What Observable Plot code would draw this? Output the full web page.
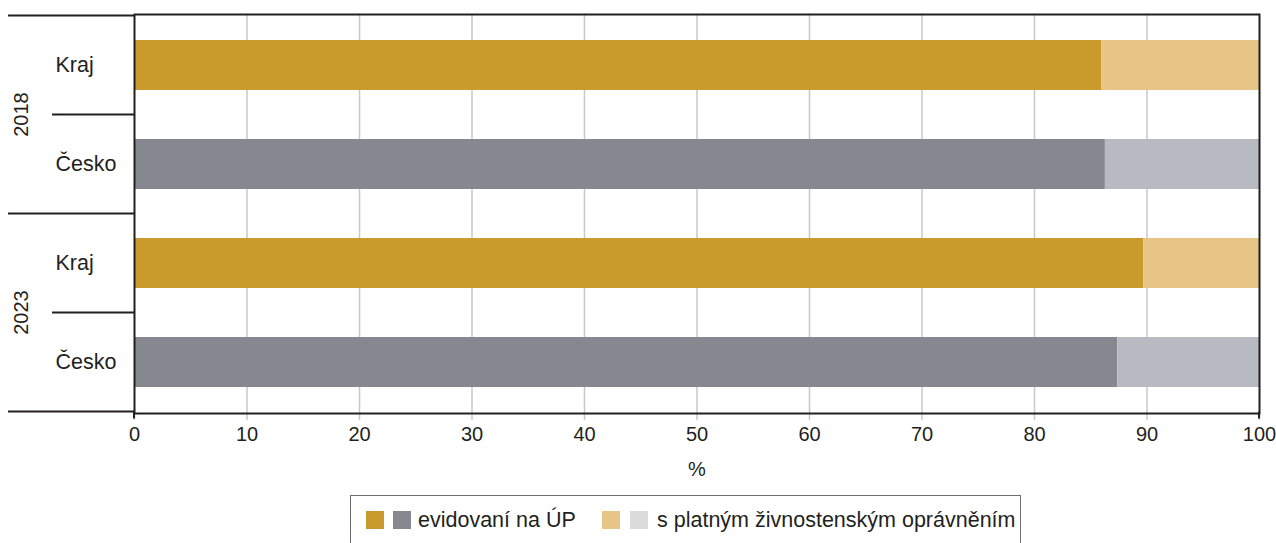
<!DOCTYPE html>
<html>
<head>
<meta charset="utf-8">
<script src="https://cdn.jsdelivr.net/npm/d3@7"></script>
<script src="https://cdn.jsdelivr.net/npm/@observablehq/plot@0.6"></script>
<style>
  html, body { margin: 0; padding: 0; background: #fff; overflow: hidden; }
  body { width: 1276px; height: 543px; position: relative; font-family: "Liberation Sans", Arial, sans-serif; color: #231f20; }
  #legend { position: absolute; left: 350px; top: 495px; width: 671px; height: 60px; border: 1px solid #6d6e71; box-sizing: border-box; font-size: 21.5px; }
  .sw { position: absolute; top: 15px; width: 18px; height: 18px; }
  .lt { position: absolute; top: 12px; white-space: nowrap; line-height: 24px; }
</style>
</head>
<body>
<div id="chart"></div>
<div id="legend"></div>
<script>
// ---- data ----
const years = ["2018", "2018", "2023", "2023"];
const regions = ["Kraj", "Česko", "Kraj", "Česko"];
const evidovani = [86.0, 86.3, 89.7, 87.4];          // evidovaní na ÚP (%)
const zivnost = [14.0, 13.7, 10.3, 12.6];            // s platným živnostenským oprávněním (%)
const seriesNames = ["evidovaní na ÚP", "s platným živnostenským oprávněním"];
const darkColors = {Kraj: "#c99a2c", "Česko": "#86888f"};
const lightColors = {Kraj: "#e6c586", "Česko": "#b7bac1"};
const legendSwatches = [["#c99a2c", "#86888f"], ["#e6c586", "#dadbdd"]];
const xTicks = [0, 10, 20, 30, 40, 50, 60, 70, 80, 90, 100];

const keys = years.map((y, i) => y + " " + regions[i]);
const rows = [];
keys.forEach((k, i) => {
  rows.push({key: k, region: regions[i], series: seriesNames[0], value: evidovani[i], color: darkColors[regions[i]]});
  rows.push({key: k, region: regions[i], series: seriesNames[1], value: zivnost[i], color: lightColors[regions[i]]});
});

const ink = "#231f20";
const chart = Plot.plot({
  width: 1276,
  height: 488,
  marginTop: 14,
  marginBottom: 75,
  marginLeft: 134,
  marginRight: 17,
  style: {fontFamily: "Liberation Sans, Arial, sans-serif", fontSize: "20px", color: ink, background: "#fff"},
  x: {domain: [0, 100]},
  y: {domain: keys, paddingInner: 0.5, paddingOuter: 0.25, label: null},
  color: {type: "identity"},
  marks: [
    Plot.gridX(xTicks.slice(1, -1), {stroke: "#c8c8c8", strokeWidth: 1.5, strokeOpacity: 1}),
    Plot.barX(rows, Plot.stackX({x: "value", y: "key", fill: "color", order: null})),
    Plot.axisX({ticks: xTicks, tickSize: 7, stroke: "#c8c8c8", strokeWidth: 1.5, tickPadding: 6, fontSize: 20, label: "%", labelAnchor: "center", labelArrow: "none", labelOffset: 62}),
    Plot.axisY({tickSize: 0, tickPadding: 79, textAnchor: "start", tickFormat: d => d.split(" ")[1], fontSize: 21.5, label: null}),
    Plot.frame({stroke: ink, strokeWidth: 2})
  ]
});
document.getElementById("chart").appendChild(chart);

// group/category separators in the left margin and rotated year labels
const ys = chart.scale("y");
const xs = chart.scale("x");
const half = (ys.step - ys.bandwidth) / 2;
const x0 = xs.apply(0);
const svg = d3.select(chart);
const g = svg.append("g");
keys.forEach((k, i) => {
  const top = ys.apply(k) - half;
  const fullGroup = i === 0 || years[i] !== years[i - 1];
  g.append("line").attr("x1", fullGroup ? 8 : 52).attr("x2", x0).attr("y1", top).attr("y2", top)
    .attr("stroke", ink).attr("stroke-width", 2);
  if (!fullGroup) {
    g.append("text").attr("transform", `translate(21,${top}) rotate(-90)`)
      .attr("text-anchor", "middle").attr("dominant-baseline", "central")
      .attr("fill", ink).attr("font-size", 20).text(years[i]);
  }
});
const last = keys[keys.length - 1];
const bottom = ys.apply(last) + ys.bandwidth + half;
g.append("line").attr("x1", 8).attr("x2", x0).attr("y1", bottom).attr("y2", bottom).attr("stroke", ink).attr("stroke-width", 2);
// dark ticks at 0 and 100
[0, 100].forEach(v => {
  g.append("line").attr("x1", xs.apply(v)).attr("x2", xs.apply(v)).attr("y1", bottom).attr("y2", bottom + 7)
    .attr("stroke", ink).attr("stroke-width", 2);
});

// legend
const legend = document.getElementById("legend");
const swX = [[15, 42], [251, 279]];
const txtX = [67, 306];
seriesNames.forEach((name, s) => {
  legendSwatches[s].forEach((c, j) => {
    const d = document.createElement("div");
    d.className = "sw"; d.style.left = swX[s][j] + "px"; d.style.background = c;
    legend.appendChild(d);
  });
  const t = document.createElement("div");
  t.className = "lt"; t.style.left = txtX[s] + "px"; t.textContent = name;
  legend.appendChild(t);
});
</script>
</body>
</html>
